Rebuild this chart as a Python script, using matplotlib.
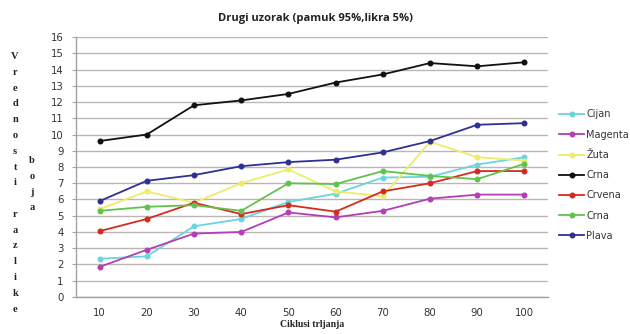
import numpy as np
import matplotlib
matplotlib.use("Agg")
import matplotlib.pyplot as plt

# Broj ciklusa trljanja (x kategorije)
ciklusi = [10, 20, 30, 40, 50, 60, 70, 80, 90, 100]

# Vrijednosti razlike boja po seriji
cijan = [2.35, 2.5, 4.35, 4.8, 5.85, 6.35, 7.35, 7.4, 8.15, 8.6]
magenta = [1.85, 2.9, 3.9, 4.0, 5.2, 4.9, 5.3, 6.05, 6.3, 6.3]
zuta = [5.4, 6.5, 5.8, 7.0, 7.85, 6.5, 6.2, 9.55, 8.6, 8.4]
crna = [9.6, 10.0, 11.8, 12.1, 12.5, 13.2, 13.7, 14.4, 14.2, 14.45]
crvena = [4.05, 4.8, 5.8, 5.1, 5.65, 5.25, 6.5, 7.0, 7.75, 7.75]
crna_zelena = [5.3, 5.55, 5.65, 5.3, 7.0, 6.95, 7.75, 7.45, 7.25, 8.2]
plava = [5.9, 7.15, 7.5, 8.05, 8.3, 8.45, 8.9, 9.6, 10.6, 10.7]

nazivi = ['Cijan', 'Magenta', 'Žuta', 'Crna', 'Crvena', 'Crna', 'Plava']
serije = [cijan, magenta, zuta, crna, crvena, crna_zelena, plava]
boje = ['#6dd3dc', '#b23fb5', '#eeec6a', '#111111', '#d42b20', '#62c24e', '#2e3192']

fig = plt.figure(figsize=(6.3, 3.34), dpi=100)
ax = fig.add_axes([0.1206, 0.111, 0.7494, 0.778])

for naziv, vrijednosti, boja in zip(nazivi, serije, boje):
    ax.plot(ciklusi, vrijednosti, '-o', color=boja, lw=1.3, markersize=3.3,
            label=naziv)

ax.set_xlim(5, 105)
ax.set_ylim(0, 16)
ax.set_yticks(np.arange(0, 17, 1))
ax.set_xticks(ciklusi)
ax.grid(True, axis='y', color='#bdb5b3', lw=1.0)
ax.set_axisbelow(True)

for s in ['top', 'right']:
    ax.spines[s].set_visible(False)
for s in ['left', 'bottom']:
    ax.spines[s].set_color('#a8a0a0')
    ax.spines[s].set_linewidth(1.0)
ax.tick_params(axis='y', length=3, color='#a8a0a0', labelsize=7.3, pad=6,
               labelcolor='#333333')
ax.tick_params(axis='x', length=0, labelsize=7.3, pad=8, labelcolor='#333333')

fig.text(0.5, 0.945, 'Drugi uzorak (pamuk 95%,likra 5%)', ha='center',
         va='center', fontsize=8, fontweight='bold', family='Open Sans',
         color='#222222')

fig.text(0.495, 0.027, 'Ciklusi trljanja', ha='center', va='center',
         fontsize=7, fontweight='bold', family='Liberation Serif', color='#222222')

# Uspravni naziv osi y, slovo po slovo
prvi = 'V\nr\ne\nd\nn\no\ns\nt\ni\n\nr\na\nz\nl\ni\nk\ne'
fig.text(0.024, 1 - 52 / 334, prvi, ha='center', va='top', fontsize=7.5,
         fontweight='bold', family='Liberation Serif', linespacing=1.97,
         color='#222222')
fig.text(0.051, 1 - 156 / 334, 'b\no\nj\na', ha='center', va='top', fontsize=7.5,
         fontweight='bold', family='Liberation Serif', linespacing=1.97,
         color='#222222')

leg = ax.legend(loc='upper left', bbox_to_anchor=(1.005, 0.755), frameon=False,
                fontsize=7, handlelength=2.6, labelspacing=1.05,
                handletextpad=0.2)
for t in leg.get_texts():
    t.set_color('#333333')

fig.savefig('out.png', dpi=100)
